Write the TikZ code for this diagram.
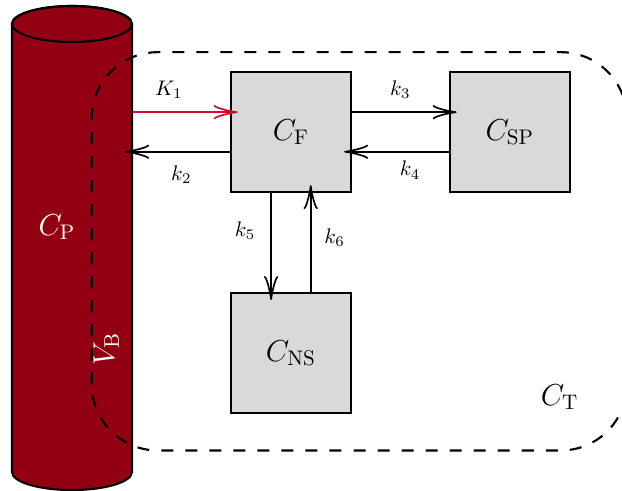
\documentclass[tikz,border=0pt]{standalone}
\usetikzlibrary{arrows.meta}

\definecolor{bloodred}{RGB}{148,0,19}
\definecolor{uptakered}{RGB}{210,10,45}

\begin{document}
\begin{tikzpicture}[
  >={Classical TikZ Rightarrow[length=4mm,width=2.4mm]}, line width=1pt,
  comp/.style={rectangle, draw=black, fill=gray!30, minimum size=2cm, inner sep=0pt, font=\Large},
  rate/.style={font=\normalsize, inner sep=2pt},
  flow/.style={->, shorten >=-1.3mm},
  bigtext/.style={font=\Large, inner sep=1pt}
]
\useasboundingbox (0,0) rectangle (10.37,8.17);

% plasma cylinder
\draw[fill=bloodred] (0.2,7.77) -- (0.2,0.3)
  arc[start angle=180, end angle=360, x radius=1, y radius=0.3]
  -- (2.2,7.77) arc[start angle=0, end angle=180, x radius=1, y radius=0.3] -- cycle;
\draw (1.2,7.77) ellipse[x radius=1, y radius=0.3];
\node[minimum width=2cm, minimum height=7.47cm, inner sep=0pt] (CP) at (1.2,4.03) {};
\node[bigtext, text=white] (CPlabel) at (0.95,4.38) {$C_{\mathrm{P}}$};

% tissue region
\draw[dash pattern=on 5.7pt off 5.7pt, rounded corners=1.1cm] (1.53,0.66) rectangle (10.45,7.3);
\node[bigtext, text=white, rotate=90] (VB) at (1.77,2.35) {$V_{\mathrm{B}}$};
\node[bigtext] (CT) at (9.33,1.55) {$C_{\mathrm{T}}$};

% compartments
\node[comp] (CF)  at (4.85,5.97) {$C_{\mathrm{F}}$};
\node[comp] (CSP) at (8.5,5.97)  {$C_{\mathrm{SP}}$};
\node[comp] (CNS) at (4.85,2.28) {$C_{\mathrm{NS}}$};

% plasma wall at the height of C_F
\coordinate (wall) at (CP.east |- CF.west);

% exchanges
\draw[flow, draw=uptakered] ([yshift=0.33cm]wall) -- node[rate, above=4pt, pos=0.37]{$K_1$} ([yshift=0.33cm]CF.west);
\draw[flow] ([yshift=-0.33cm]CF.west) -- node[rate, below=4pt]{$k_2$} ([yshift=-0.33cm]wall);
\draw[flow] ([yshift=0.33cm]CF.east) -- node[rate, above=4pt]{$k_3$} ([yshift=0.33cm]CSP.west);
\draw[flow] ([yshift=-0.33cm]CSP.west) -- node[rate, below=2pt, pos=0.4]{$k_4$} ([yshift=-0.33cm]CF.east);
\draw[flow] ([xshift=-0.33cm]CF.south) -- node[rate, left=5pt, pos=0.38]{$k_5$} ([xshift=-0.33cm]CNS.north);
\draw[flow] ([xshift=0.33cm]CNS.north) -- node[rate, right=4pt, pos=0.55]{$k_6$} ([xshift=0.33cm]CF.south);

\end{tikzpicture}
\end{document}
